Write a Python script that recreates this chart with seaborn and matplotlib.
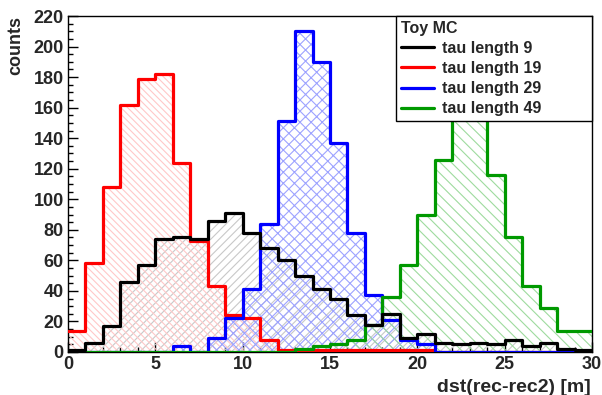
import numpy as np
import pandas as pd
import matplotlib
matplotlib.use("Agg")
import matplotlib.pyplot as plt
import seaborn as sns
from matplotlib.lines import Line2D
from matplotlib.ticker import MultipleLocator

# ---- data (bin contents, 30 bins of width 1 from 0 to 30) ----
bin_edges = list(range(0, 31))
tau9 = [1, 6, 17, 46, 57, 74, 75, 74, 86, 91, 78, 68, 60, 50, 41, 35, 24, 18, 25, 9,
        12, 6, 5, 6, 5, 8, 4, 6, 2, 1]
tau19 = [14, 58, 108, 162, 179, 182, 124, 73, 43, 24, 22, 8, 1, 1, 1, 1, 1, 1, 1, 1,
         1, 0, 0, 0, 0, 0, 0, 0, 0, 0]
tau29 = [0, 0, 0, 0, 0, 0, 4, 0, 9, 22, 41, 84, 151, 210, 190, 137, 78, 37, 21, 8,
         5, 0, 0, 0, 0, 0, 0, 0, 0, 0]
tau49 = [0, 0, 0, 0, 0, 0, 0, 0, 0, 0, 0, 0, 0, 2, 4, 5, 8, 18, 36, 57,
         90, 126, 185, 175, 116, 75, 43, 29, 14, 14]
series_labels = ["tau length 9", "tau length 19", "tau length 29", "tau length 49"]
legend_title = "Toy MC"
x_label = "dst(rec-rec2) [m]"
y_label = "counts"

sns.set_theme(style="ticks")
plt.rcParams["font.family"] = ["Liberation Sans", "DejaVu Sans"]
plt.rcParams["font.weight"] = "bold"
plt.rcParams["hatch.linewidth"] = 0.8

fig = plt.figure(figsize=(6.02, 3.95), dpi=100)
ax = fig.add_axes([68 / 602, 1 - 352 / 395, 524 / 602, 336 / 395])

centers = [(a + b) / 2 for a, b in zip(bin_edges[:-1], bin_edges[1:])]

styles = [
    (tau9, "#000000", "#c8c8c8", "////"),
    (tau19, "#ff0000", "#ffc8c8", "\\\\\\\\\\"),
    (tau29, "#0000ff", "#9da3ff", "xxx"),
    (tau49, "#009900", "#9edb9e", "\\\\\\"),
]

# hatched fills
for vals, col, hcol, hatch in styles:
    df = pd.DataFrame({"x": centers, "w": vals})
    sns.histplot(data=df, x="x", weights="w", bins=bin_edges, element="step",
                 fill=True, color=hcol, facecolor="none", edgecolor=hcol,
                 linewidth=0, hatch=hatch, ax=ax, zorder=1)

# outlines
order = [1, 2, 3, 0]
for i in order:
    vals, col, hcol, hatch = styles[i]
    df = pd.DataFrame({"x": centers, "w": vals})
    sns.histplot(data=df, x="x", weights="w", bins=bin_edges, element="step",
                 fill=False, color=col, linewidth=2.3, ax=ax, zorder=3)

ax.set_xlim(0, 30)
ax.set_ylim(0, 220)
ax.xaxis.set_major_locator(MultipleLocator(5))
ax.xaxis.set_minor_locator(MultipleLocator(1))
ax.yaxis.set_major_locator(MultipleLocator(20))
ax.yaxis.set_minor_locator(MultipleLocator(5))
ax.tick_params(which="both", direction="in", top=False, right=False,
               labelsize=13, width=1, color="black")
ax.tick_params(which="major", length=7.5, pad=3)
ax.tick_params(which="minor", length=3.8)
for s in ax.spines.values():
    s.set_linewidth(1.0)
    s.set_color("black")
for lab in ax.get_xticklabels() + ax.get_yticklabels():
    lab.set_fontweight("bold")

ax.set_xlabel(x_label, fontsize=14, fontweight="bold", loc="right")
ax.xaxis.set_label_coords(0.997, -0.08)
ax.set_ylabel(y_label, fontsize=13, fontweight="bold", loc="top")
ax.yaxis.set_label_coords(-0.083, 1.0)

handles = [Line2D([0], [0], color=s[1], lw=2.3) for s in styles]
leg_x0 = (396 - 68) / 524
leg = ax.legend(handles, series_labels, title=legend_title, loc="upper left",
                bbox_to_anchor=(leg_x0, 0.0, 1.0 - leg_x0, 1.0), mode="expand",
                borderaxespad=0, frameon=True,
                fancybox=False, shadow=False, framealpha=1, edgecolor="black",
                prop={"size": 11.5, "weight": "bold"},
                title_fontproperties={"size": 11.5, "weight": "bold"},
                alignment="left", handlelength=2.1, handletextpad=0.45,
                labelspacing=0.32, borderpad=0.3)
leg.get_frame().set_linewidth(1.0)
leg.set_zorder(10)

fig.savefig("out.png", dpi=100, facecolor="white")
